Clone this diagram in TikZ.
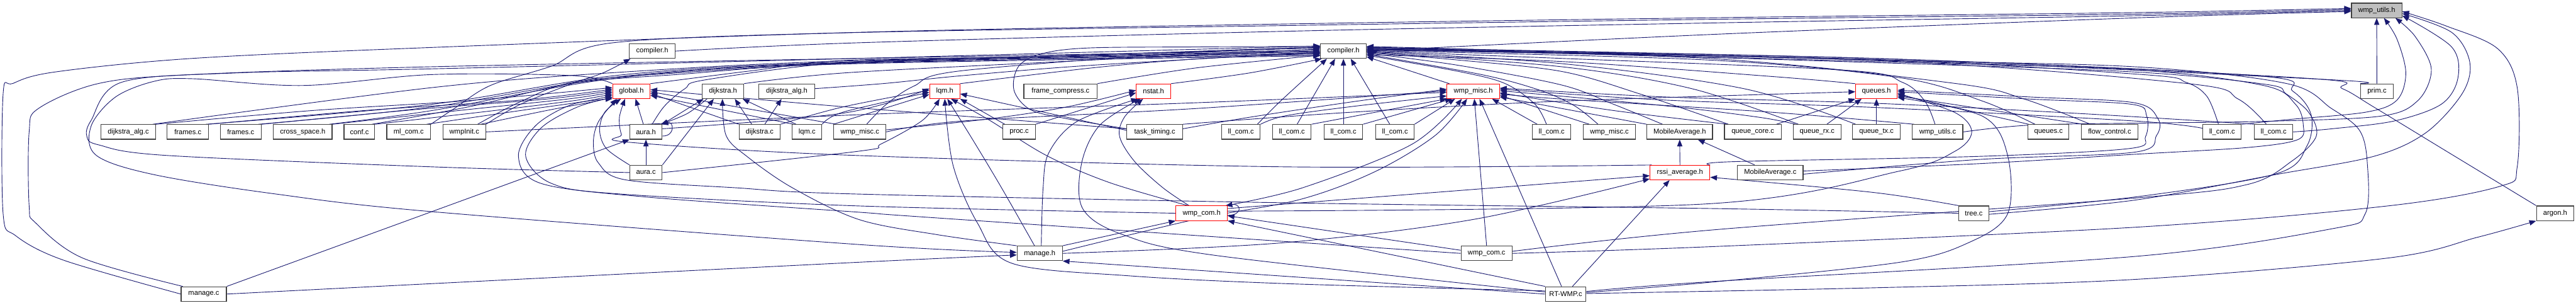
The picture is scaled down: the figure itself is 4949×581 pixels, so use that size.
\documentclass[tikz,border=0pt]{standalone}
\usepackage{fontspec}
\setmainfont{Liberation Sans}
\usetikzlibrary{arrows.meta}
\definecolor{edgec}{RGB}{25,25,112}
\definecolor{boxc}{RGB}{64,64,64}
\pgfdeclarelayer{bg}
\pgfsetlayers{bg,main}
\newcommand{\myedge}[1]{\draw[edg] plot[smooth,tension=0.55] coordinates {#1};}
\begin{document}
\begin{tikzpicture}[x=1pt,y=-1pt,
  nd/.style={draw=boxc,line width=1.4pt,fill=white,minimum height=28pt,inner sep=0pt,font=\fontsize{13.5}{16}\selectfont},
  rd/.style={nd,draw=red,line width=1.1pt},
  gr/.style={nd,fill=black!25},
  edg/.style={draw=edgec,line width=1.1pt,-{Triangle[length=13pt,width=10pt]}},
]
\useasboundingbox (0,0) rectangle (4949,581);
% ---------- nodes
\node[gr,minimum width=97pt] (W) at (4566,20) {wmp\_utils.h};
\node[nd,minimum width=88pt] (CA) at (1253,98) {compiler.h};
\node[nd,minimum width=88pt] (CB) at (2581,98) {compiler.h};
\node[rd,minimum width=72pt] (G) at (1213,175) {global.h};
\node[nd,minimum width=80pt] (DH) at (1389,175) {dijkstra.h};
\node[nd,minimum width=107pt] (DAH) at (1511.5,175) {dijkstra\_alg.h};
\node[rd,minimum width=58pt] (LH) at (1815,175) {lqm.h};
\node[nd,minimum width=141pt] (FC) at (2037.5,175) {frame\_compress.c};
\node[rd,minimum width=66pt] (NH) at (2216,175) {nstat.h};
\node[rd,minimum width=101pt] (WMH) at (2830.5,175) {wmp\_misc.h};
\node[rd,minimum width=80pt] (QH) at (3605,175) {queues.h};
\node[nd,minimum width=63pt] (PR) at (4566.5,175) {prim.c};
\node[nd,minimum width=105pt] (DAC) at (246.5,253) {dijkstra\_alg.c};
\node[nd,minimum width=80pt] (FR1) at (361,253) {frames.c};
\node[nd,minimum width=79pt] (FR2) at (462.5,253) {frames.c};
\node[nd,minimum width=113pt] (CS) at (581.5,253) {cross\_space.h};
\node[nd,minimum width=59pt] (CF) at (690.5,253) {conf.c};
\node[nd,minimum width=84pt] (ML) at (785,253) {ml\_com.c};
\node[nd,minimum width=82pt] (WI) at (892,253) {wmpInit.c};
\node[nd,minimum width=62pt] (AH) at (1241,253) {aura.h};
\node[nd,minimum width=79pt] (DC) at (1459.5,253) {dijkstra.c};
\node[nd,minimum width=57pt] (LC) at (1550.5,253) {lqm.c};
\node[nd,minimum width=100pt] (WM1) at (1652,253) {wmp\_misc.c};
\node[nd,minimum width=62pt] (PC) at (1958,253) {proc.c};
\node[nd,minimum width=107pt] (TT) at (2218.5,253) {task\_timing.c};
\node[nd,minimum width=74pt] (LL1) at (2384,253) {ll\_com.c};
\node[nd,minimum width=74pt] (LL2) at (2482,253) {ll\_com.c};
\node[nd,minimum width=74pt] (LL3) at (2581,253) {ll\_com.c};
\node[nd,minimum width=74pt] (LL4) at (2680,253) {ll\_com.c};
\node[nd,minimum width=74pt] (LL5) at (2981,253) {ll\_com.c};
\node[nd,minimum width=100pt] (WM2) at (3092,253) {wmp\_misc.c};
\node[nd,minimum width=126pt] (MAH) at (3227,253) {MobileAverage.h};
\node[nd,minimum width=109pt] (QC) at (3367.5,253) {queue\_core.c};
\node[nd,minimum width=92pt] (QR) at (3491,253) {queue\_rx.c};
\node[nd,minimum width=92pt] (QT) at (3605,253) {queue\_tx.c};
\node[nd,minimum width=97pt] (WUC) at (3722.5,253) {wmp\_utils.c};
\node[nd,minimum width=79pt] (QS) at (3935.5,253) {queues.c};
\node[nd,minimum width=108pt] (FL) at (4053,253) {flow\_control.c};
\node[nd,minimum width=74pt] (LL6) at (4269,253) {ll\_com.c};
\node[nd,minimum width=74pt] (LL7) at (4368,253) {ll\_com.c};
\node[nd,minimum width=62pt] (AC) at (1241,331) {aura.c};
\node[rd,minimum width=115pt] (RAH) at (3227.5,331) {rssi\_average.h};
\node[nd,minimum width=126pt] (MAC) at (3401,331) {MobileAverage.c};
\node[rd,minimum width=99pt] (WCH) at (2308.5,409) {wmp\_com.h};
\node[nd,minimum width=58pt] (TR) at (3792,409) {tree.c};
\node[nd,minimum width=72pt] (AR) at (4909,409) {argon.h};
\node[nd,minimum width=87pt] (MH) at (1997.5,486) {manage.h};
\node[nd,minimum width=98pt] (WCC) at (2856,486) {wmp\_com.c};
\node[nd,minimum width=87pt] (MC) at (391.5,564) {manage.c};
\node[nd,minimum width=78pt] (RT) at (3008,564) {RT-WMP.c};
% ---------- edges
\begin{pgfonlayer}{bg}
\fill[white] (0,0) rectangle (4949,581);
% into wmp_utils.h
\myedge{(CB.east) (3290,66) (4110,34) ([yshift=-2pt]W.west)}
\myedge{(CA.east) (1650,82) (2470,60) (3290,44) (4110,30) ([yshift=0pt]W.west)}
\myedge{(MC.west) (122,499) (30,452) (6,410) (6,180) (25,160) (106,138) (370,112) (830,91) (1650,62) (2470,46) (3290,34) (4110,24) ([yshift=4pt]W.west)}
\myedge{(ML.north east) (873,208) (942,164) (1059,127) (1178,82) (1620,63) (2470,49) (3290,37) (4110,27) ([yshift=2pt]W.west)}
\draw[edg] (PR) -- (W);
\myedge{(LL6.north east) (4400,229) (4546,215) (4605,192) (4622,140) (4605,75) ([xshift=14pt]W.south)}
\myedge{(WUC.east) (3900,240) (4120,236) (4340,233) (4572,223) (4645,193) (4671,133) (4640,70) ([xshift=36pt]W.south)}
\myedge{(LL7.east) (4480,247) (4600,232) (4690,200) (4722,150) (4710,90) ([yshift=-10pt]W.east)}
\myedge{([yshift=-2pt]TR.east) (4100,384) (4371,335) (4560,300) (4660,255) (4730,180) (4745,120) (4710,62) ([yshift=-6pt]W.east)}
\myedge{(WCC.east) (3290,473) (4100,436) (4587,395) (4804,357) (4836,320) (4836,168) (4798,93) (4700,50) ([yshift=-2pt]W.east)}
% compiler.h (A)
\myedge{(WI.north east) (1000,200) (1100,160) (1158,140) ([xshift=3pt]CA.south west)}
% global.h
\myedge{(DAC.north east) (600,212) (900,193) ([yshift=7pt]G.west)}
\myedge{(FR1.north east) (700,212) (1000,192) ([yshift=4pt]G.west)}
\myedge{(FR2.north east) (800,210) (1050,190) ([yshift=1pt]G.west)}
\myedge{(CS.north east) (900,210) (1090,190) ([yshift=-2pt]G.west)}
\myedge{(CF.north east) (950,212) (1110,192) ([yshift=-5pt]G.west)}
\myedge{([xshift=-8pt]ML.north east) (1000,212) (1120,195) ([yshift=-8pt]G.west)}
\myedge{([xshift=-10pt]WI.north east) (1050,212) (1140,195) ([yshift=-11pt]G.west)}
\draw[edg] ([xshift=-5pt]AH.north) -- ([xshift=8pt]G.south);
\myedge{(AC.north west) (1165,285) (1152,250) (1162,215) ([xshift=-20pt]G.south)}
\draw[edg] (DC.north west) -- ([yshift=-4pt]G.east);
\draw[edg] ([xshift=3pt]LC.north west) -- ([yshift=-8pt]G.east);
\draw[edg] ([xshift=5pt]WM1.north west) -- ([yshift=-1pt]G.east);
\myedge{([yshift=6pt]TT.west) (1600,203) ([yshift=3pt]G.east)}
\myedge{(WCH.west) (1650,395) (1190,372) (1060,352) (1010,300) (1040,245) (1110,205) ([yshift=-12pt]G.west)}
\myedge{(WCC.west) (1800,418) (1650,407) (1243,378) (1040,352) (996,300) (1030,240) (1100,200) (G.south west)}
\myedge{(TR.west) (3290,400) (2470,389) (1640,372) (1411,360) (1202,345) (1150,313) (1140,273) (1150,233) ([xshift=-28pt]G.south)}
\myedge{(RAH.165) (2470,320) (1640,298) (1210,273) (1194,258) (1190,225) ([xshift=-12pt]G.south)}
\myedge{(G.north west) (1100,145) (830,143) (582,164) (370,151) (296,156) (222,186) (175,242) (185,298) (296,335) (529,372) (830,406) (1650,469) ([yshift=2pt]MH.west)}
% dijkstra.h / dijkstra_alg.h
\draw[edg] (AH.north east) -- ([xshift=3pt]DH.south west);
\myedge{([xshift=10pt]DH.south west) (1320,218) ([xshift=-3pt]AH.north east)}
\draw[edg] (AC.north east) -- ([xshift=23pt]DH.south west);
\myedge{(MH.north west) (1800,450) (1650,421) (1522,360) (1435,300) (1395,260) ([xshift=-1pt]DH.south)}
\draw[edg] ([xshift=25pt]DC.north west) -- ([xshift=-18pt]DH.south east);
\draw[edg] ([xshift=8pt]LC.north west) -- ([xshift=-3pt]DH.south east);
\draw[edg] ([xshift=50pt]DC.north west) -- ([xshift=-10pt]DAH.south);
% compiler.h (B) from the left
\myedge{(G.north east) (1450,135) (1620,116) (2000,108) ([yshift=8pt]CB.west)}
\myedge{(DH.north east) (1620,140) (2000,120) ([yshift=4pt]CB.west)}
\myedge{([yshift=5pt]DAH.east) (1700,160) (1850,145) (2100,125) ([yshift=-2pt]CB.west)}
\myedge{(LH.north east) (2100,130) (2300,113) ([yshift=-4pt]CB.west)}
\myedge{(FC.north east) (2300,130) ([yshift=-8pt]CB.west)}
\myedge{(NH.north east) (2400,140) ([xshift=3pt]CB.south west)}
\myedge{([xshift=12pt]AH.north) (1277,203) (1316,170) (1356,153) (1620,120) (2000,108) ([yshift=6pt]CB.west)}
\myedge{(AC.west) (830,320) (318,298) (190,278) (167,262) (175,231) (233,158) (450,140) (830,132) (1650,112) ([yshift=10pt]CB.west)}
\myedge{([yshift=6pt]TT.west) (2046,227) (1979,210) (1948,173) (1957,127) (2002,103) (2091,92) (2300,90) ([yshift=9pt]CB.west)}
\myedge{([xshift=13pt]WM1.north) (1703,200) (1756,165) (1845,136) (2300,100) ([yshift=7pt]CB.west)}
\myedge{(MC.160) (159,495) (69,428) (56,395) (56,253) (74,208) (190,160) (370,143) (830,128) (1650,112) ([yshift=2pt]CB.west)}
\myedge{([xshift=-6pt]DAC.north east) (830,168) (1200,138) (1650,116) ([yshift=0pt]CB.west)}
\myedge{([xshift=-6pt]FR1.north east) (830,200) (1200,143) (1650,118) ([yshift=-1pt]CB.west)}
\myedge{([xshift=-6pt]FR2.north east) (830,205) (1200,146) (1650,119) ([yshift=-3pt]CB.west)}
\myedge{([xshift=-6pt]CS.north east) (830,212) (1200,148) (1650,120) ([yshift=-5pt]CB.west)}
\myedge{([xshift=-6pt]CF.north east) (900,205) (1100,160) (1300,143) (1650,121) ([yshift=-7pt]CB.west)}
\myedge{([xshift=-16pt]WI.north east) (1000,195) (1100,158) (1300,140) (1650,122) ([yshift=-9pt]CB.west)}
% compiler.h (B) from below
\myedge{([xshift=-6pt]LL1.north east) (2460,194) ([xshift=13pt]CB.south west)}
\draw[edg] ([xshift=10pt]LL2.north) -- ([xshift=-16pt]CB.south);
\draw[edg] (LL3.north) -- (CB.south);
\draw[edg] ([xshift=-10pt]LL4.north) -- ([xshift=14pt]CB.south);
% compiler.h (B) from the right
\draw[edg] ([xshift=5pt]WMH.north west) -- ([yshift=-11pt]CB.east);
\myedge{([xshift=-10pt]LL5.north) (2949,200) (2891,160) (2802,137) ([yshift=-8pt]CB.east)}
\myedge{([xshift=-22pt]WM2.north) (3025,203) (2958,173) (2846,143) ([yshift=-6pt]CB.east)}
\myedge{([xshift=-33pt]MAH.north) (3100,200) (3000,163) (2800,125) ([yshift=-4pt]CB.east)}
\myedge{([xshift=-47pt]QC.north) (3150,180) (3000,137) (2800,115) ([yshift=-3pt]CB.east)}
\myedge{([xshift=-36pt]QR.north) (3250,170) (3000,128) ([yshift=-2pt]CB.east)}
\myedge{([xshift=-40pt]QT.north) (3350,170) (3000,122) ([yshift=-1pt]CB.east)}
\myedge{([xshift=-5pt]WUC.north) (3698,194) (3655,158) (3550,135) (3000,112) ([yshift=0pt]CB.east)}
\myedge{([xshift=-26pt]QS.north) (3809,194) (3650,149) (3280,115) ([yshift=1pt]CB.east)}
\myedge{([xshift=-37pt]FL.north) (3889,190) (3756,160) (3280,112) ([yshift=2pt]CB.east)}
\myedge{([xshift=-7pt]LL6.north) (4240,185) (4200,158) (4116,143) (3600,115) ([yshift=3pt]CB.east)}
\myedge{([xshift=-14pt]LL7.north) (4300,190) (4200,160) (3600,116) ([yshift=3pt]CB.east)}
\myedge{(PR.north west) (4460,152) (3600,114) ([yshift=4pt]CB.east)}
\myedge{(AR.north west) (4700,290) (4560,205) (4500,170) (4430,150) (3600,112) ([yshift=5pt]CB.east)}
\myedge{([yshift=3pt]MAC.east) (3800,314) (4100,296) (4317,283) (4414,268) (4425,240) (4410,200) (4349,164) (4100,134) (3600,118) ([yshift=6pt]CB.east)}
\myedge{([yshift=3pt]TR.east) (4116,376) (4374,333) (4432,280) (4440,220) (4405,175) (4331,145) (3600,112) ([yshift=7pt]CB.east)}
\myedge{([yshift=4pt]WCC.east) (3290,441) (4100,380) (4317,354) (4403,309) (4450,261) (4435,215) (4392,180) (4354,162) (4100,138) (3600,120) ([yshift=8pt]CB.east)}
\myedge{([yshift=5pt]RT.east) (3290,540) (4100,492) (4479,439) (4544,410) (4548,313) (4533,250) (4479,208) (4392,160) (4100,128) (3600,115) ([yshift=9pt]CB.east)}
\myedge{(QH.north west) (3408,147) (3000,118) ([yshift=-7pt]CB.east)}
% lqm.h
\myedge{([yshift=6pt]AH.east) (1620,217) ([yshift=5pt]LH.west)}
\myedge{(DC.north east) (1620,205) ([yshift=2pt]LH.west)}
\myedge{(LC.north east) (1620,215) ([yshift=-2pt]LH.west)}
\draw[edg] (WM1.north west) -- ([yshift=-6pt]LH.west);
\myedge{(AC.east) (1650,290) (1693,276) (1772,231) ([xshift=-10pt]LH.south)}
\myedge{([yshift=6pt]RT.west) (2470,544) (2169,529) (1944,505) (1878,428) (1831,317) (LH.south)}
\myedge{([xshift=-10pt]MH.north) (1924,360) (1870,270) ([xshift=5pt]LH.south)}
\myedge{([xshift=-26pt]WCH.north) (2131,350) (2010,298) (1900,230) ([xshift=12pt]LH.south)}
\draw[edg] ([xshift=4pt]PC.north west) -- (LH.south east);
\draw[edg] ([yshift=3pt]TT.west) -- ([yshift=-5pt]LH.east);
% nstat.h
\draw[edg] (PC.north east) -- ([yshift=-3pt]NH.west);
\myedge{([yshift=4pt]WM1.east) (1900,228) (2050,205) ([yshift=2pt]NH.west)}
\myedge{([xshift=3pt]MH.north) (2004,360) (2015,293) (2069,233) ([xshift=-30pt]NH.south)}
\myedge{([yshift=4pt]RT.west) (2336,490) (2157,450) (2080,400) (2078,313) (2113,240) ([xshift=-25pt]NH.south)}
\myedge{([xshift=-24pt]WCH.north) (2234,360) (2180,310) (2151,262) (2160,225) ([xshift=-20pt]NH.south)}
% wmp_misc.h
\myedge{(LL1.north east) (2470,222) (2600,204) ([yshift=-9pt]WMH.west)}
\draw[edg] (LL2.north east) -- (WMH.south west);
\draw[edg] (LL3.north east) -- ([xshift=10pt]WMH.south west);
\draw[edg] (LL4.north east) -- ([xshift=16pt]WMH.south west);
\draw[edg] ([xshift=10pt]LL5.north west) -- ([xshift=-15pt]WMH.south east);
\myedge{([xshift=-4pt]WCH.north east) (2503,360) (2712,277) ([xshift=-22pt]WMH.south)}
\myedge{([yshift=4pt]MH.east) (2300,420) (2496,383) (2640,330) (2757,260) ([xshift=-12pt]WMH.south)}
\draw[edg] (WCC.north) -- ([xshift=2pt]WMH.south);
\draw[edg] ([xshift=-8pt]RT.north) -- ([xshift=12pt]WMH.south);
\myedge{([yshift=6pt]TT.east) (2400,225) (2600,195) ([yshift=4pt]WMH.west)}
\myedge{(WM1.east) (1850,232) (2300,208) ([yshift=1pt]WMH.west)}
\myedge{(WI.east) (1650,220) (2300,197) ([yshift=-2pt]WMH.west)}
\draw[edg] ([xshift=12pt]WM2.north west) -- ([yshift=-8pt]WMH.east);
\draw[edg] (MAH.north west) -- ([yshift=-11pt]WMH.east);
\myedge{([xshift=7pt]QC.north west) (3100,212) ([yshift=-3pt]WMH.east)}
\myedge{([xshift=5pt]QR.north west) (3380,225) (3200,203) ([yshift=1pt]WMH.east)}
\myedge{([xshift=4pt]WUC.north west) (3400,215) (3000,190) ([yshift=-5pt]WMH.east)}
\myedge{([yshift=7pt]LL6.west) (4100,232) (3600,206) (3200,192) ([yshift=4pt]WMH.east)}
\myedge{(LL7.north west) (4000,218) (3600,198) (3200,186) ([yshift=6pt]WMH.east)}
% queues.h
\draw[edg] ([xshift=-10pt]QC.north east) -- (QH.south west);
\draw[edg] ([xshift=-28pt]QR.north east) -- ([xshift=12pt]QH.south west);
\draw[edg] (QT.north) -- (QH.south);
\draw[edg] ([xshift=2pt]QS.north west) -- ([yshift=-6pt]QH.east);
\draw[edg] ([xshift=4pt]FL.north west) -- ([yshift=-9pt]QH.east);
\myedge{([yshift=3pt]RT.east) (3290,541) (3650,503) (3783,465) (3857,410) (3857,298) (3809,223) ([yshift=-12pt]QH.east)}
\myedge{([yshift=4pt]WCH.east) (3280,391) (3650,328) (3756,290) (3788,253) (3756,216) ([yshift=-4pt]QH.east)}
\myedge{(TT.north east) (2600,215) (3000,194) ([yshift=-1pt]QH.west)}
\myedge{(RAH.north east) (3332,310) (3800,300) (4090,285) (4122,262) (4124,222) (4095,200) (3900,190) ([yshift=-1pt]QH.east)}
\myedge{([yshift=-3pt]MAC.east) (3800,306) (4100,292) (4143,260) (4146,228) (4100,197) (3900,186) ([yshift=2pt]QH.east)}
% MobileAverage.h / rssi_average.h
\draw[edg] (RAH.north) -- (MAH.south);
\draw[edg] ([xshift=-30pt]MAC.north) -- ([xshift=35pt]MAH.south);
\draw[edg] ([yshift=9pt]WCH.east) -- ([yshift=-6pt]RAH.west);
\myedge{(MH.east) (2460,466) (2830,421) ([yshift=-12pt]RAH.west)}
\draw[edg] ([xshift=13pt]RT.north) -- ([xshift=-20pt]RAH.south);
\myedge{(TR.north west) (3598,369) ([yshift=-9pt]RAH.east)}
% wmp_com.h
\draw[edg] (MH.north east) -- (WCH.south west);
\draw[edg] ([yshift=-4pt]WCH.east) .. controls +(30,0) and +(30,-5) .. ([xshift=-4pt]WCH.north east);
\draw[edg] ([yshift=6pt]WCC.west) -- ([yshift=-5pt]WCH.east);
\draw[edg] (RT.north west) -- (WCH.south east);
% aura.h
\draw[edg] ([yshift=-8pt]AH.east) .. controls +(25,0) and +(24,-6) .. ([xshift=-2pt]AH.north east);
\draw[edg] (MC.north east) -- (AH.south west);
\draw[edg] (AC.north) -- (AH.south);
% manage.h
\myedge{(MC.east) (830,544) (1650,503) ([yshift=-3pt]MH.west)}
\draw[edg] (RT.west) -- (MH.south east);
% argon.h
\myedge{([yshift=1pt]RT.east) (3600,552) (4100,536) (4587,495) (4760,455) (AR.south west)}
\end{pgfonlayer}
\end{tikzpicture}
\end{document}
